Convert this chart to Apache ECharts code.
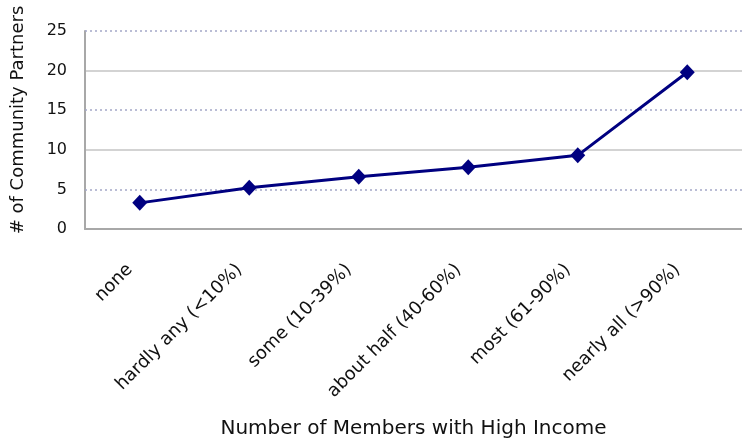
<!DOCTYPE html>
<html>
<head>
<meta charset="utf-8">
<script src="https://cdn.jsdelivr.net/npm/echarts@6/dist/echarts.min.js"></script>
<style>
  html, body { margin: 0; padding: 0; background: #ffffff; }
  #chart { width: 742px; height: 442px; }
</style>
</head>
<body>
<div id="chart"></div>
<script>
// categories and values
const categories = ['none', 'hardly any (<10%)', 'some (10-39%)', 'about half (40-60%)', 'most (61-90%)', 'nearly all (>90%)']
const partners = [3.3, 5.2, 6.6, 7.8, 9.3, 19.8]
// the gridlines at these values are dotted, the others solid
const dottedTicks = [5, 15, 25]

const font = 'DejaVu Sans, Verdana, sans-serif'

const chart = echarts.init(document.getElementById('chart'))
chart.setOption({
  animation: false,
  grid: { left: 85, width: 664, top: 31, bottom: 213 },
  xAxis: {
    type: 'category',
    data: categories,
    boundaryGap: true,
    axisLine: { lineStyle: { color: '#a8a8a8', width: 2 } },
    axisTick: { show: false },
    axisLabel: {
      rotate: 45,
      margin: 28,
      padding: [0, 14, 0, 0],
      fontFamily: font,
      fontSize: 18,
      color: '#111'
    },
    name: 'Number of Members with High Income',
    nameLocation: 'middle',
    nameGap: 190,
    nameTextStyle: { fontFamily: font, fontSize: 20, color: '#111' }
  },
  yAxis: {
    type: 'value',
    min: 0,
    max: 25,
    interval: 5,
    axisLine: { show: true, lineStyle: { color: '#a8a8a8', width: 2 } },
    axisTick: { show: false },
    axisLabel: { margin: 18, fontFamily: font, fontSize: 16, color: '#111' },
    splitLine: {
      show: true,
      lineStyle: { color: ['#c4c4c4', 'transparent'], width: 1.5 }
    },
    name: '# of Community Partners',
    nameLocation: 'middle',
    nameGap: 58,
    nameTextStyle: { fontFamily: font, fontSize: 18, color: '#111', padding: [0, 0, 0, 20] }
  },
  series: [
    {
      type: 'line',
      data: partners,
      symbol: 'diamond',
      symbolSize: [15, 16],
      itemStyle: { color: '#000080' },
      lineStyle: { color: '#000080', width: 3 },
      z: 5,
      markLine: {
        silent: true,
        symbol: 'none',
        label: { show: false },
        lineStyle: { color: '#a4a8c8', type: [2, 3], width: 1.5 },
        data: dottedTicks.map(v => ({ yAxis: v }))
      }
    }
  ]
})
</script>
</body>
</html>
